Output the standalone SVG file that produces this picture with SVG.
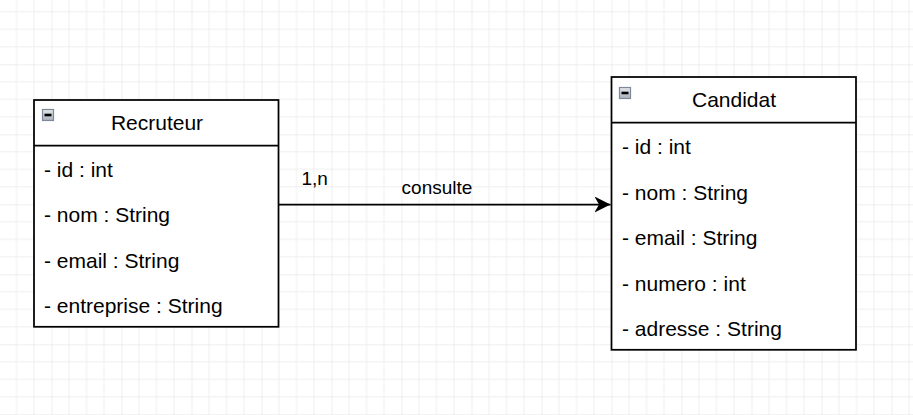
<svg xmlns="http://www.w3.org/2000/svg" width="913" height="415" viewBox="0 0 913 415">
  <style>
    .box { fill: #ffffff; stroke: #000000; stroke-width: 1.75; }
    .sep { stroke: #000000; stroke-width: 1.75; fill: none; }
    .title { font-family: "Liberation Sans", Arial, sans-serif; font-size: 21px; fill: #000000; text-anchor: middle; }
    .attr { font-family: "Liberation Sans", Arial, sans-serif; font-size: 21px; fill: #000000; }
    .lbl { font-family: "Liberation Sans", Arial, sans-serif; font-size: 19px; fill: #000000; }
    .edge { stroke: #000000; stroke-width: 1.75; fill: none; }
    .icon { fill: url(#iconGrad); stroke: #7f8896; stroke-width: 1.2; }
    .minus { stroke: #000000; stroke-width: 2.6; }
  </style>
  <defs>
    <linearGradient id="iconGrad" x1="0" y1="0" x2="0" y2="1">
      <stop offset="0" stop-color="#e4e7ec"/>
      <stop offset="1" stop-color="#aab1bc"/>
    </linearGradient>
    <pattern id="grid" patternUnits="userSpaceOnUse" x="-18.5" y="-5.7" width="70" height="70">
      <path d="M17.5 0V70M35 0V70M52.5 0V70M0 17.5H70M0 35H70M0 52.5H70" stroke="#efefef" stroke-width="1" fill="none"/>
      <path d="M0 0V70M0 0H70" stroke="#dedede" stroke-width="1" fill="none"/>
    </pattern>
    <marker id="arrow" markerUnits="userSpaceOnUse" markerWidth="20" markerHeight="20" refX="16" refY="8" orient="auto">
      <path d="M0 0L16 8L0 16L4.5 8Z" fill="#000000"/>
    </marker>
  </defs>
  <rect x="0" y="0" width="913" height="415" fill="#ffffff"/>
  <rect x="0" y="0" width="913" height="415" fill="url(#grid)"/>

  <g id="connectors">
    <path class="edge" d="M279 204.5H610.5" marker-end="url(#arrow)"/>
    <text class="lbl" x="301.5" y="185">1,n</text>
    <text class="lbl" x="437" y="193.5" text-anchor="middle">consulte</text>
  </g>

  <g id="recruteur">
    <rect class="box" x="34" y="100" width="244.5" height="226.8"/>
    <path class="sep" d="M34 145.5H278.5"/>
    <rect class="icon" x="42.5" y="109.5" width="11" height="11"/>
    <path class="minus" d="M44.5 115H51.5"/>
    <text class="title" x="157" y="130">Recruteur</text>
    <text class="attr" x="44" y="177">- id : int</text>
    <text class="attr" x="44" y="222.3">- nom : String</text>
    <text class="attr" x="44" y="267.8">- email : String</text>
    <text class="attr" x="44" y="313.3">- entreprise : String</text>
  </g>

  <g id="candidat">
    <rect class="box" x="611.5" y="77" width="244.5" height="272.8"/>
    <path class="sep" d="M611.5 122.5H856"/>
    <rect class="icon" x="619.5" y="87.5" width="11" height="11"/>
    <path class="minus" d="M621.5 93H628.5"/>
    <text class="title" x="734" y="107">Candidat</text>
    <text class="attr" x="622" y="154">- id : int</text>
    <text class="attr" x="622" y="199.5">- nom : String</text>
    <text class="attr" x="622" y="245">- email : String</text>
    <text class="attr" x="622" y="290.5">- numero : int</text>
    <text class="attr" x="622" y="336">- adresse : String</text>
  </g>
</svg>
